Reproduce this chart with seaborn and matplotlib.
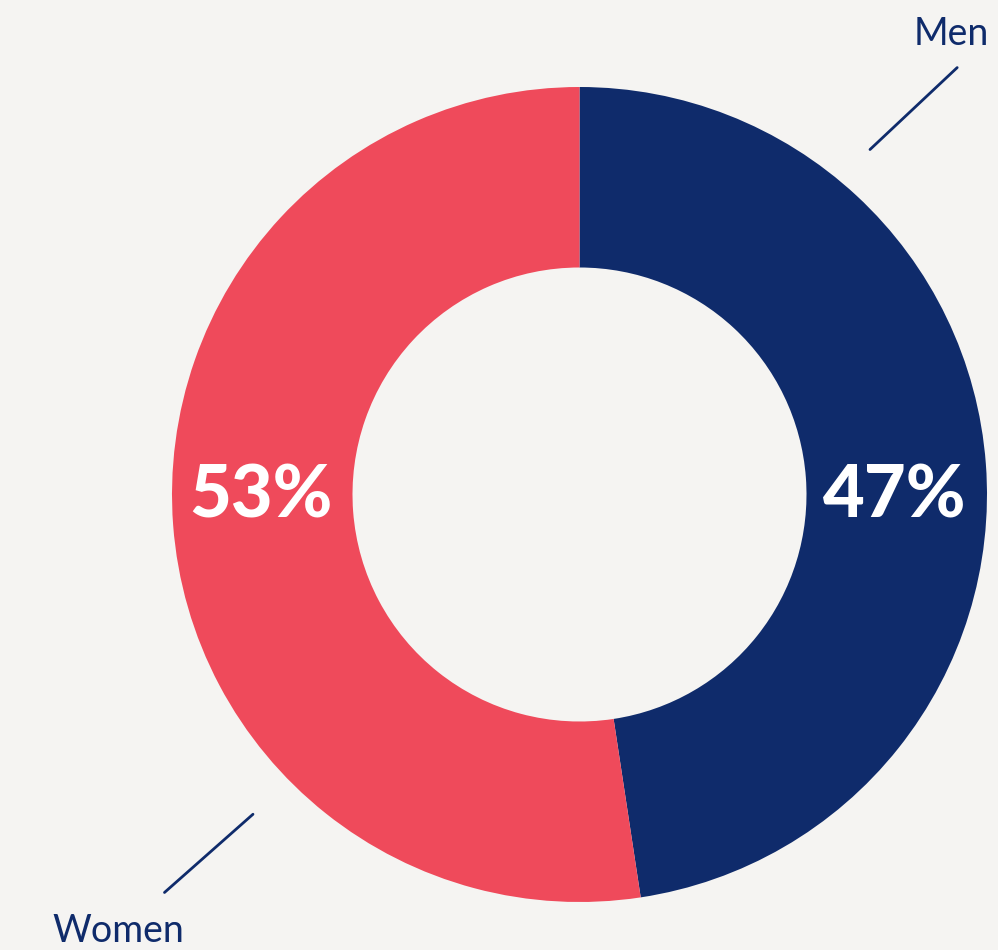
import numpy as np
import matplotlib.pyplot as plt
import seaborn as sns

# data
labels = ["Men", "Women"]
shares = [47.6, 52.4]          # wedge sizes as measured from the ring
pct_labels = ["47%", "53%"]    # printed labels
colors = ["#0f2b6b", "#ef4a5b"]

sns.set_theme(style="white")
plt.rcParams['font.family'] = ['Lato', 'DejaVu Sans']

bg = "#f5f4f2"
fig = plt.figure(figsize=(9.98, 9.5), dpi=100, facecolor=bg)
ax = fig.add_axes([0, 0, 1, 1])
ax.set_facecolor(bg)

cx, cy = 579.5, 455.5
r_out, r_in = 407.5, 227
width = r_out - r_in

ax.pie(shares, colors=colors, startangle=90, counterclock=False,
       center=(cx, cy), radius=r_out, frame=True,
       wedgeprops=dict(width=width, edgecolor="none"))
ax.set_xlim(0, 998)
ax.set_ylim(0, 950)
ax.set_aspect("equal")
ax.axis("off")

# percentage labels in the ring
r_mid = (r_out + r_in) / 2
ax.text(cx + r_mid - 2, cy - 2, pct_labels[0], color="white", fontsize=52,
        fontweight="black", ha="center", va="center")
ax.text(cx - r_mid - 1, cy - 2, pct_labels[1], color="white", fontsize=52,
        fontweight="black", ha="center", va="center")

# leader lines + category names
navy = colors[0]
leaders = [
    # name, start angle, start r, end angle, end r, text x, text y
    ("Men", 49.9, 451, 48.5, 570, 951, 916),
    ("Women", 224.4, 457, 223.8, 575, 118, 19),
]
for name, a0, r0, a1, r1, tx, ty in leaders:
    a0, a1 = np.deg2rad(a0), np.deg2rad(a1)
    ax.plot([cx + r0 * np.cos(a0), cx + r1 * np.cos(a1)],
            [cy + r0 * np.sin(a0), cy + r1 * np.sin(a1)],
            color=navy, lw=2, solid_capstyle="round")
    ax.text(tx, ty, name, color=navy, fontsize=27, ha="center", va="center")

fig.savefig("out.png", dpi=100, facecolor=bg)
